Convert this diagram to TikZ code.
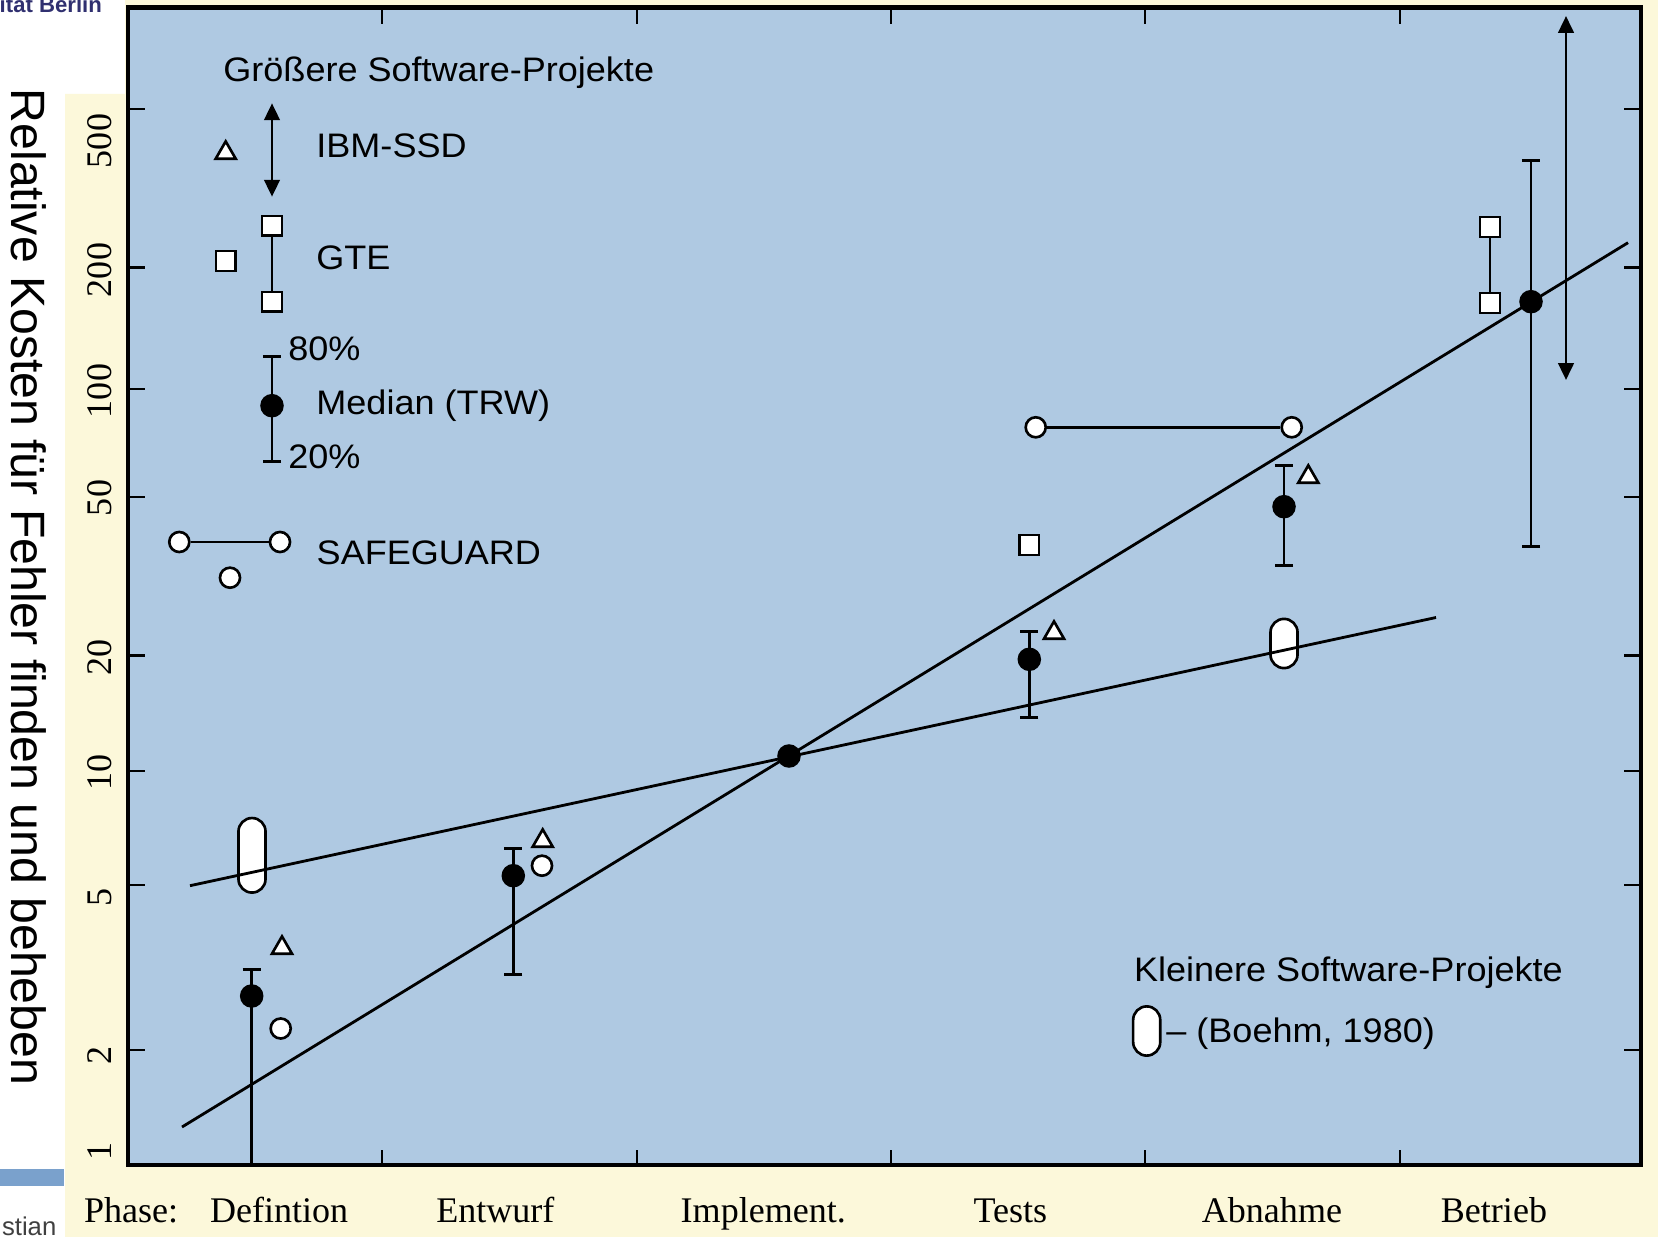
\documentclass[tikz,border=0pt]{standalone}
\usepackage{fontspec}
\setmainfont{Liberation Serif}
\newfontfamily\lblfont[FakeStretch=1.06]{Liberation Sans}
\newfontfamily\titlefont{Liberation Sans}
\usetikzlibrary{arrows.meta}
\usetikzlibrary{shapes.geometric}
\definecolor{plotbg}{RGB}{175,201,226}
\definecolor{paper}{RGB}{252,248,218}
\definecolor{unibar}{RGB}{122,161,204}
\definecolor{uniblue}{RGB}{48,48,112}

\begin{document}
\begin{tikzpicture}[x=0.01cm, y=-0.01cm,
    lbl/.style={font=\lblfont\fontsize{9.67}{11}\selectfont, anchor=base west, inner sep=0},
    phase/.style={font=\fontsize{10.25}{12}\selectfont, anchor=base west, inner sep=0},
    ylab/.style={font=\fontsize{10.25}{12}\selectfont, rotate=90, inner sep=0},
    sqmark/.style={draw, fill=white, rectangle, minimum size=5.6pt, inner sep=0, line width=0.75pt},
    ringmark/.style={draw, fill=white, circle, minimum size=5.7pt, inner sep=0, line width=0.75pt},
    trimark/.style={draw, fill=white, regular polygon, regular polygon sides=3, minimum size=6.6pt, inner sep=0, line width=0.75pt},
    dotmark/.style={fill=black, circle, minimum size=6.7pt, inner sep=0},
    pillmark/.style={draw, fill=white, rounded corners=3.85pt, minimum width=7.7pt, inner sep=0, line width=0.75pt},
    ebar/.style={line width=0.8pt, {Bar[width=5.2pt]}-{Bar[width=5.2pt]}},
    darrow/.style={line width=0.8pt, {Triangle[length=4.8pt,width=4.4pt]}-{Triangle[length=4.8pt,width=4.4pt]}},
    trend/.style={line width=0.8pt}]

      \useasboundingbox (0,0) rectangle (1658,1237);
      \clip (0,0) rectangle (1658,1237);
      \fill[white] (0,0) rectangle (1658,1237);
      \fill[paper] (65,94) -- (125,94) -- (125,0) -- (1658,0) -- (1658,1237) -- (65,1237) -- cycle;
      \fill[unibar] (0,1169) rectangle (64,1186);
      \node[font=\titlefont\bfseries\fontsize{6.3}{7}\selectfont, text=uniblue, anchor=base east, inner sep=0] (logo) at (102.6,12.5) {ität Berlin};
      \node[font=\titlefont\fontsize{7.3}{8}\selectfont, text=black!75, anchor=base east, inner sep=0] (author) at (57,1235) {stian};
      \node[font=\titlefont\fontsize{13.7}{15}\selectfont, rotate=-90, inner sep=0] (ytitle) at (28.5,587) {Relative Kosten für Fehler finden und beheben};

      \draw[line width=1.2pt, fill=plotbg] (128,7.5) rectangle (1641,1165);
      \foreach \y in {109,267.5,389,497,655.6,771,885,1050}
        \draw[line width=0.8pt] (128,\y) -- ++(17,0) (1641,\y) -- ++(-17,0);
      \foreach \x in {382,637,891,1145,1400}
        \draw[line width=0.8pt] (\x,7.5) -- ++(0,17) (\x,1165) -- ++(0,-15);

      \foreach \v/\y in {500/141,200/270,100/391,50/498,20/657,10/772,5/897,2/1055,1/1151}
        \node[ylab] (y\v) at (100,\y) {\v};
      \node[phase] (ph0) at (83.3,1222) {Phase:};
      \node[phase] (ph1) at (209.3,1222) {Defintion};
      \node[phase] (ph2) at (435.6,1222) {Entwurf};
      \node[phase] (ph3) at (680,1222) {Implement.};
      \node[phase] (ph4) at (972.8,1222) {Tests};
      \node[phase] (ph5) at (1201.2,1222) {Abnahme};
      \node[phase] (ph6) at (1440.2,1222) {Betrieb};

      \node[pillmark, minimum height=21.2pt] (pdef) at (252,855.3) {};
      \node[pillmark, minimum height=14pt] (pabn) at (1284,643.5) {};

      \coordinate (hs) at (182,1127);
      \coordinate (he) at (1628,242.7);
      \coordinate (ls) at (190,885.7);
      \coordinate (le) at (1436,617.5);
      \draw[trend] (hs) -- (he);
      \draw[trend] (ls) -- (le);

      \coordinate (defhi) at (251.7,967.7);
      \coordinate (deflo) at (251.7,1165);
      \draw[line width=0.8pt, {Bar[width=5.2pt]}-] (defhi) -- (deflo);
      \foreach \nm/\x/\hi/\lo in {ent/513.3/847.3/975.7, tst/1029.3/630/719.3, abn/1284/464.3/567.3, btr/1531/159.3/547.7, leg/272/355/463.3}
        \draw[ebar] (\x,\hi) coordinate (\nm hi) -- (\x,\lo) coordinate (\nm lo);

      \node[sqmark] (gteA) at (1490,227) {};
      \node[sqmark] (gteB) at (1490,303) {};
      \draw[line width=0.8pt] (gteA) -- (gteB);
      \node[sqmark] (gteT) at (1029.3,545) {};
      \node[ringmark] (sgA) at (1035.7,427.3) {};
      \node[ringmark] (sgB) at (1291.7,427.3) {};
      \draw[line width=0.8pt] (sgA) -- (sgB);
      \node[ringmark] (sgD) at (280.7,1028.5) {};
      \node[ringmark] (sgE) at (542,865.7) {};
      \node[trimark] (ibmD) at (282,948) {};
      \node[trimark] (ibmE) at (542.7,841) {};
      \node[trimark] (ibmT) at (1054,633) {};
      \node[trimark] (ibmA) at (1308.3,477) {};

      \node[dotmark] (mdef) at (251.7,996) {};
      \node[dotmark] (ment) at (513.3,875.7) {};
      \node[dotmark] (mimp) at (789,756) {};
      \node[dotmark] (mtst) at (1029.3,659.3) {};
      \node[dotmark] (mabn) at (1284,506.7) {};
      \node[dotmark] (mbtr) at (1531,301.7) {};

      \coordinate (btrup) at (1566,16);
      \coordinate (btrdn) at (1566,380);
      \draw[darrow] (btrup) -- (btrdn);

      \node[lbl] (gross) at (222.7,81.5) {Größere Software-Projekte};
      \node[trimark] (lgtri) at (225.7,153) {};
      \coordinate (lgup) at (272,103.3);
      \coordinate (lgdn) at (272,196.7);
      \draw[darrow] (lgup) -- (lgdn);
      \node[lbl] (ibm) at (315.7,158) {IBM-SSD};
      \node[sqmark] (lgsq) at (225.7,261) {};
      \node[sqmark] (lgsqA) at (272,225.7) {};
      \node[sqmark] (lgsqB) at (272,301.7) {};
      \draw[line width=0.8pt] (lgsqA) -- (lgsqB);
      \node[lbl] (gte) at (315.7,269.5) {GTE};
      \node[dotmark] (lgdot) at (272,405.7) {};
      \node[lbl] (p80) at (287.7,361) {80\%};
      \node[lbl] (median) at (315.7,415) {Median (TRW)};
      \node[lbl] (p20) at (287.7,469) {20\%};
      \node[ringmark] (lgrA) at (179.3,542) {};
      \node[ringmark] (lgrB) at (280,542) {};
      \draw[line width=0.8pt] (lgrA) -- (lgrB);
      \node[ringmark] (lgrC) at (230,577.7) {};
      \node[lbl] (safe) at (316,564.3) {SAFEGUARD};

      \node[lbl] (klein) at (1133.3,981.7) {Kleinere Software-Projekte};
      \node[pillmark, minimum height=14pt] (lgpill) at (1146.7,1031) {};
      \node[lbl] (boehm) at (1165.7,1042.7) {– (Boehm, 1980)};

    \end{tikzpicture}
\end{document}
